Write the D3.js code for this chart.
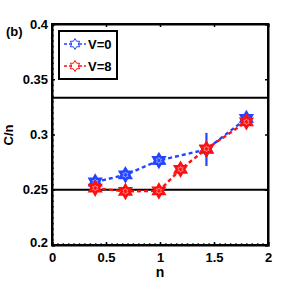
<!DOCTYPE html>
<html>
<head>
<meta charset="utf-8">
<script src="https://cdn.jsdelivr.net/npm/d3@7"></script>
<style>
  body { margin: 0; background: #fff; }
  text { font-family: "Liberation Sans", Arial, sans-serif; font-weight: bold; }
</style>
</head>
<body>
<svg id="chart"></svg>
<script>
const nV0 = [0.4, 0.68, 0.99, 1.43, 1.8];
const cV0 = [0.257, 0.2635, 0.2765, 0.2865, 0.3145];
const eV0 = [0.003, 0.006, 0.006, 0.015, 0.003];

const nV8 = [0.4, 0.68, 0.99, 1.19, 1.43, 1.8];
const cV8 = [0.2515, 0.2485, 0.249, 0.2685, 0.287, 0.3115];
const eV8 = [0.003, 0.003, 0.004, 0.003, 0.004, 0.003];

const refLines = [1 / 3, 0.25];
const xTicks = [0, 0.5, 1, 1.5, 2];
const yTicks = [0.2, 0.25, 0.3, 0.35, 0.4];

const W = 290, H = 291;
const margin = { top: 24, right: 22, bottom: 46, left: 52 };
const width = W - margin.left - margin.right;
const height = H - margin.top - margin.bottom;

const svg = d3.select("#chart").attr("width", W).attr("height", H);
const g = svg.append("g").attr("transform", `translate(${margin.left},${margin.top})`);

const x = d3.scaleLinear().domain([0, 2]).range([0, width]);
const y = d3.scaleLinear().domain([0.2, 0.4]).range([height, 0]);

// minor ticks
g.append("g").attr("transform", `translate(0,${height})`)
  .call(d3.axisBottom(x).tickValues(d3.range(0, 2.001, 0.05)).tickSize(-2).tickFormat(""))
  .call(a => a.select(".domain").remove())
  .selectAll("line").attr("stroke", "#555");
g.append("g")
  .call(d3.axisLeft(y).tickValues(d3.range(0.2, 0.4001, 0.005)).tickSize(-2).tickFormat(""))
  .call(a => a.select(".domain").remove())
  .selectAll("line").attr("stroke", "#555");

// major ticks, all four sides
const axB = g.append("g").attr("transform", `translate(0,${height})`)
  .call(d3.axisBottom(x).tickValues(xTicks).tickSize(-3).tickPadding(6).tickFormat(d3.format("")));
const axL = g.append("g")
  .call(d3.axisLeft(y).tickValues(yTicks).tickSize(-3).tickPadding(4).tickFormat(d3.format("")));
g.append("g").call(d3.axisTop(x).tickValues(xTicks).tickSize(-3).tickFormat(""));
g.append("g").attr("transform", `translate(${width},0)`)
  .call(d3.axisRight(y).tickValues(yTicks).tickSize(-3).tickFormat(""));

g.selectAll(".domain").attr("stroke", "#000").attr("stroke-width", 2);
g.selectAll(".tick line").attr("stroke-width", 1.5);
[axB, axL].forEach(a => a.selectAll("text").attr("font-size", 13).attr("fill", "#000"));
axB.selectAll("text").attr("dy", "0.85em");
axL.selectAll(".tick").filter(d => d === 0.2).select("text").attr("dy", "0.15em");

// frame
g.append("rect").attr("width", width).attr("height", height)
  .attr("fill", "none").attr("stroke", "#000").attr("stroke-width", 2);

// reference lines
g.selectAll(".ref").data(refLines).enter().append("line")
  .attr("x1", 0).attr("x2", width)
  .attr("y1", d => y(d)).attr("y2", d => y(d))
  .attr("stroke", "#000").attr("stroke-width", 2);

const hexagram = r => {
  const pts = [];
  for (let i = 0; i < 12; i++) {
    const a = -Math.PI / 2 + i * Math.PI / 6;
    const rr = i % 2 === 0 ? r : r * 0.58;
    pts.push([rr * Math.cos(a), rr * Math.sin(a)]);
  }
  return "M" + pts.map(p => p.join(",")).join("L") + "Z";
};

function drawSeries(ns, cs, es, color) {
  const data = ns.map((n, i) => ({ n, c: cs[i], e: es[i] }));
  const s = g.append("g");
  s.append("path").datum(data)
    .attr("d", d3.line().x(d => x(d.n)).y(d => y(d.c)))
    .attr("fill", "none").attr("stroke", color).attr("stroke-width", 2.4)
    .attr("stroke-dasharray", "4,3");
  s.selectAll(".err").data(data).enter().append("line")
    .attr("x1", d => x(d.n)).attr("x2", d => x(d.n))
    .attr("y1", d => y(d.c - d.e)).attr("y2", d => y(d.c + d.e))
    .attr("stroke", color).attr("stroke-width", 2.2);
  const mk = s.selectAll(".mk").data(data).enter().append("g")
    .attr("transform", d => `translate(${x(d.n)},${y(d.c)})`);
  mk.append("path").attr("d", hexagram(7))
    .attr("fill", color).attr("stroke", color).attr("stroke-width", 1.8);
  mk.append("path").attr("d", hexagram(3))
    .attr("fill", "none").attr("stroke", "#fff").attr("stroke-width", 0.7)
    .attr("opacity", 0.6);
}

drawSeries(nV0, cV0, eV0, "#2345ff");
drawSeries(nV8, cV8, eV8, "#ff1010");

// axis titles
svg.append("text").attr("x", margin.left + width / 2).attr("y", 277)
  .attr("text-anchor", "middle").attr("font-size", 14).text("n");
svg.append("text").attr("transform", "translate(13,135) rotate(-90)")
  .attr("text-anchor", "middle").attr("font-size", 13).text("C/n");
svg.append("text").attr("x", 6).attr("y", 36).attr("font-size", 13).text("(b)");

// legend
const leg = svg.append("g").attr("transform", "translate(59,31)");
leg.append("rect").attr("width", 58).attr("height", 48)
  .attr("fill", "#fff").attr("stroke", "#000").attr("stroke-width", 2);
[["V=0", "#2345ff"], ["V=8", "#ff1010"]].forEach(([lab, col], i) => {
  const yy = 13 + i * 22;
  leg.append("line").attr("x1", 5).attr("x2", 27).attr("y1", yy).attr("y2", yy)
    .attr("stroke", col).attr("stroke-width", 1.5).attr("stroke-dasharray", "3,2");
  leg.append("path").attr("transform", `translate(16,${yy})`).attr("d", hexagram(5.5))
    .attr("fill", "#fff").attr("stroke", col).attr("stroke-width", 1);
  leg.append("text").attr("x", 29).attr("y", yy + 4.5).attr("font-size", 13).text(lab);
});
</script>
</body>
</html>
